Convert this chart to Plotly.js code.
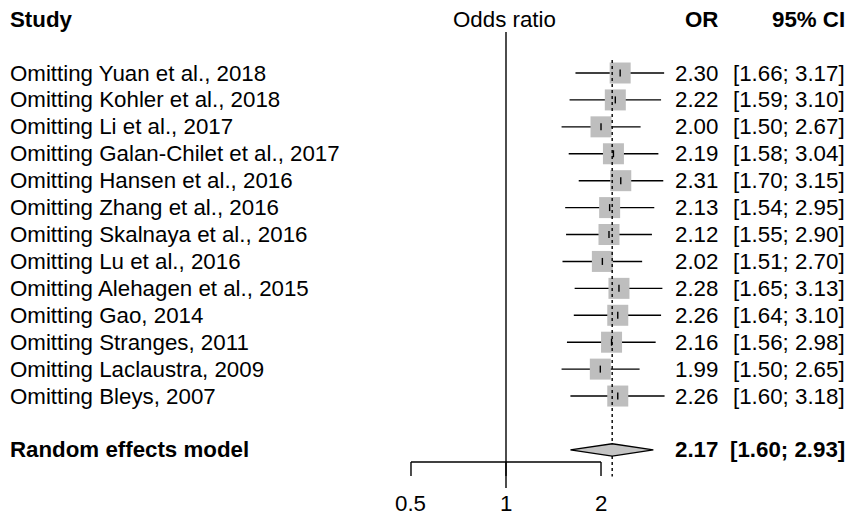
<!DOCTYPE html>
<html>
<head>
<meta charset="utf-8">
<script src="https://cdn.plot.ly/plotly-3.0.1.min.js"></script>
<style>html,body{margin:0;padding:0;background:#fff;}#chart{width:848px;height:517px;}</style>
</head>
<body>
<div id="chart"></div>
<script>
const studies = [
  "Omitting Yuan et al., 2018",
  "Omitting Kohler et al., 2018",
  "Omitting Li et al., 2017",
  "Omitting Galan-Chilet et al., 2017",
  "Omitting Hansen et al., 2016",
  "Omitting Zhang et al., 2016",
  "Omitting Skalnaya et al., 2016",
  "Omitting Lu et al., 2016",
  "Omitting Alehagen et al., 2015",
  "Omitting Gao, 2014",
  "Omitting Stranges, 2011",
  "Omitting Laclaustra, 2009",
  "Omitting Bleys, 2007"
];
const oddsRatio = [2.30, 2.22, 2.00, 2.19, 2.31, 2.13, 2.12, 2.02, 2.28, 2.26, 2.16, 1.99, 2.26];
const ciLower  = [1.66, 1.59, 1.50, 1.58, 1.70, 1.54, 1.55, 1.51, 1.65, 1.64, 1.56, 1.50, 1.60];
const ciUpper  = [3.17, 3.10, 2.67, 3.04, 3.15, 2.95, 2.90, 2.70, 3.13, 3.10, 2.98, 2.65, 3.18];
const pooledLabel = "Random effects model";
const pooledOR = 2.17;
const pooledLower = 1.60;
const pooledUpper = 2.93;
const axisTicks = [0.5, 1, 2];
const axisTickLabels = ["0.5", "1", "2"];

const W = 848, H = 517;
const FONT = "Liberation Sans, Arial, Helvetica, sans-serif";
const FS = 22.3;
const rows = studies.map((s, i) => i);
const pooledRow = 14;
const fmt = v => v.toFixed(2);
const LW = 1.4;

// CI lines
const ciX = [], ciY = [];
rows.forEach(i => { ciX.push(ciLower[i], ciUpper[i], null); ciY.push(i, i, null); });

// point-estimate ticks
const th = 0.13;
const tkX = [], tkY = [];
rows.forEach(i => { tkX.push(oddsRatio[i], oddsRatio[i], null); tkY.push(i - th, i + th, null); });

// axis
const axRow = 14.45, tickEnd = 14.97;
const axX = [axisTicks[0], axisTicks[axisTicks.length - 1], null];
const axY = [axRow, axRow, null];
axisTicks.forEach(t => { axX.push(t, t, null); axY.push(axRow, tickEnd, null); });

const dh = 0.23;
const traces = [
  { x: ciX, y: ciY, mode: "lines", line: {color: "#000", width: LW}, hoverinfo: "skip" },
  { x: oddsRatio, y: rows, mode: "markers", marker: {symbol: "square", size: 21, color: "#bebebe", line: {width: 0}}, hoverinfo: "skip" },
  { x: tkX, y: tkY, mode: "lines", line: {color: "#000", width: LW}, hoverinfo: "skip" },
  { x: [1, 1], y: [-1.52, 15.42], mode: "lines", line: {color: "#000", width: LW}, hoverinfo: "skip" },
  { x: [pooledOR, pooledOR], y: [-0.48, 14.99], mode: "lines", line: {color: "#000", width: LW, dash: "dot"}, hoverinfo: "skip" },
  { x: [pooledLower, pooledOR, pooledUpper, pooledOR, pooledLower],
    y: [pooledRow, pooledRow - dh, pooledRow, pooledRow + dh, pooledRow],
    mode: "lines", fill: "toself", fillcolor: "#c4c4c4", line: {color: "#000", width: LW}, hoverinfo: "skip" },
  { x: axX, y: axY, mode: "lines", line: {color: "#000", width: LW}, hoverinfo: "skip" }
];

const annotations = [];
function txt(px, y, text, anchor, bold) {
  annotations.push({ xref: "paper", yref: "y", x: px / W, y: y, text: bold ? "<b>" + text + "</b>" : text,
    showarrow: false, xanchor: anchor, yanchor: "middle", borderpad: 0,
    font: {family: FONT, size: FS, color: "#000"} });
}
const orRight = 719, ciRight = 846, labLeft = 9;
txt(labLeft, -1.97, "Study", "left", true);
txt(504, -1.97, "Odds ratio", "center", false);
txt(orRight, -1.97, "OR", "right", true);
txt(ciRight, -1.97, "95% CI", "right", true);
rows.forEach(i => {
  txt(labLeft, i, studies[i], "left", false);
  txt(orRight, i, fmt(oddsRatio[i]), "right", false);
  txt(ciRight, i, "[" + fmt(ciLower[i]) + "; " + fmt(ciUpper[i]) + "]", "right", false);
});
txt(labLeft, pooledRow, pooledLabel, "left", true);
txt(orRight, pooledRow, fmt(pooledOR), "right", true);
txt(ciRight, pooledRow, "[" + fmt(pooledLower) + "; " + fmt(pooledUpper) + "]", "right", true);
axisTicks.forEach((t, k) => {
  annotations.push({ xref: "x", yref: "y", x: Math.log10(t), y: 16.0, text: axisTickLabels[k], showarrow: false,
    xanchor: "center", yanchor: "middle", borderpad: 0, font: {family: FONT, size: FS, color: "#000"} });
});

const pxPerDecade = 315.6, oneAt = 506;
const layout = {
  width: W, height: H, autosize: false,
  margin: {l: 0, r: 0, t: 0, b: 0, pad: 0},
  paper_bgcolor: "#fff", plot_bgcolor: "#fff",
  showlegend: false,
  xaxis: { type: "log", range: [-oneAt / pxPerDecade, (W - oneAt) / pxPerDecade], visible: false, fixedrange: true },
  yaxis: { range: [(H - 73) / 26.92, -73 / 26.92], visible: false, fixedrange: true },
  annotations: annotations
};
Plotly.newPlot("chart", traces, layout, {staticPlot: true, displayModeBar: false});
</script>
</body>
</html>
